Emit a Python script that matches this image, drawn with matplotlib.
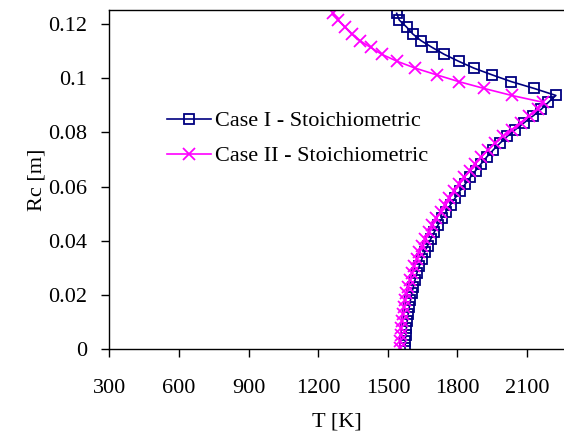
import matplotlib
matplotlib.use("Agg")
import matplotlib.pyplot as plt

plt.rcParams['font.family'] = ['Liberation Serif', 'DejaVu Serif']

# Radial position grid (m), shared by both cases
rc = [0.0004, 0.0029, 0.0054, 0.0080, 0.0105, 0.0130, 0.0155, 0.0180, 0.0206, 0.0231,
      0.0256, 0.0281, 0.0306, 0.0332, 0.0357, 0.0382, 0.0407, 0.0432, 0.0458, 0.0483,
      0.0508, 0.0533, 0.0558, 0.0584, 0.0609, 0.0634, 0.0659, 0.0684, 0.0710, 0.0735,
      0.0760, 0.0785, 0.0810, 0.0836, 0.0861, 0.0886, 0.0911, 0.0936, 0.0962, 0.0987,
      0.1012, 0.1037, 0.1062, 0.1088, 0.1113, 0.1138, 0.1163, 0.1188, 0.1214, 0.1239]

# Temperature (K), Case I - Stoichiometric
t_case1 = [1574, 1575, 1577, 1580, 1583, 1587, 1592, 1597, 1603, 1610,
           1617, 1625, 1635, 1646, 1658, 1671, 1685, 1700, 1716, 1733,
           1751, 1770, 1790, 1811, 1833, 1855, 1878, 1902, 1927, 1954,
           1983, 2014, 2049, 2088, 2126, 2162, 2192, 2224, 2130, 2032,
           1949, 1870, 1805, 1742, 1691, 1643, 1607, 1581, 1549, 1538]

# Temperature (K), Case II - Stoichiometric
t_case2 = [1552, 1553, 1555, 1557, 1560, 1564, 1569, 1574, 1580, 1587,
           1595, 1603, 1613, 1624, 1635, 1648, 1662, 1676, 1692, 1709,
           1727, 1746, 1765, 1786, 1807, 1829, 1852, 1876, 1902, 1931,
           1962, 1996, 2034, 2072, 2110, 2145, 2168, 2034, 1914, 1806,
           1710, 1617, 1540, 1473, 1426, 1380, 1344, 1315, 1286, 1262]

labels = ['Case I - Stoichiometric', 'Case II - Stoichiometric']
x_ticks = [300, 600, 900, 1200, 1500, 1800, 2100]
y_ticks = [0, 0.02, 0.04, 0.06, 0.08, 0.1, 0.12]
y_tick_labels = ['0', '0.02', '0.04', '0.06', '0.08', '0.1', '0.12']

fig = plt.figure(figsize=(5.64, 4.37), dpi=100)
ax = fig.add_axes([0.194, 0.2007, 0.806, 0.7757])

ax.plot(t_case1, rc, color='#000080', lw=1.2, marker='s', ms=7,
        mfc='none', mec='#000080', mew=1.3, label=labels[0], clip_on=True)
ax.plot(t_case2, rc, color='#FF00FF', lw=1.2, marker='x', ms=8,
        mec='#FF00FF', mew=1.3, label=labels[1], clip_on=True)

ax.set_xlim(300, 2259)
ax.set_ylim(0, 0.125)
ax.set_xticks(x_ticks)
ax.set_xticklabels([str(v) for v in x_ticks])
ax.set_yticks(y_ticks)
ax.set_yticklabels(y_tick_labels)

ax.spines['right'].set_visible(False)
for s in ['left', 'bottom', 'top']:
    ax.spines[s].set_linewidth(1.0)
    ax.spines[s].set_color('black')

ax.tick_params(axis='both', direction='out', length=6, width=1.0,
               labelsize=16, colors='black')
ax.tick_params(axis='x', pad=15.5)
ax.tick_params(axis='y', pad=10)

ax.set_xlabel('T [K]', fontsize=16, labelpad=10)
ax.set_ylabel('Rc [m]', fontsize=16, labelpad=1.5)

leg = ax.legend(loc='upper left', bbox_to_anchor=(0.107, 0.73), frameon=False,
                fontsize=16, handlelength=2.0, handletextpad=0.15,
                labelspacing=0.65, borderaxespad=0)

fig.savefig('out.png', dpi=100)
